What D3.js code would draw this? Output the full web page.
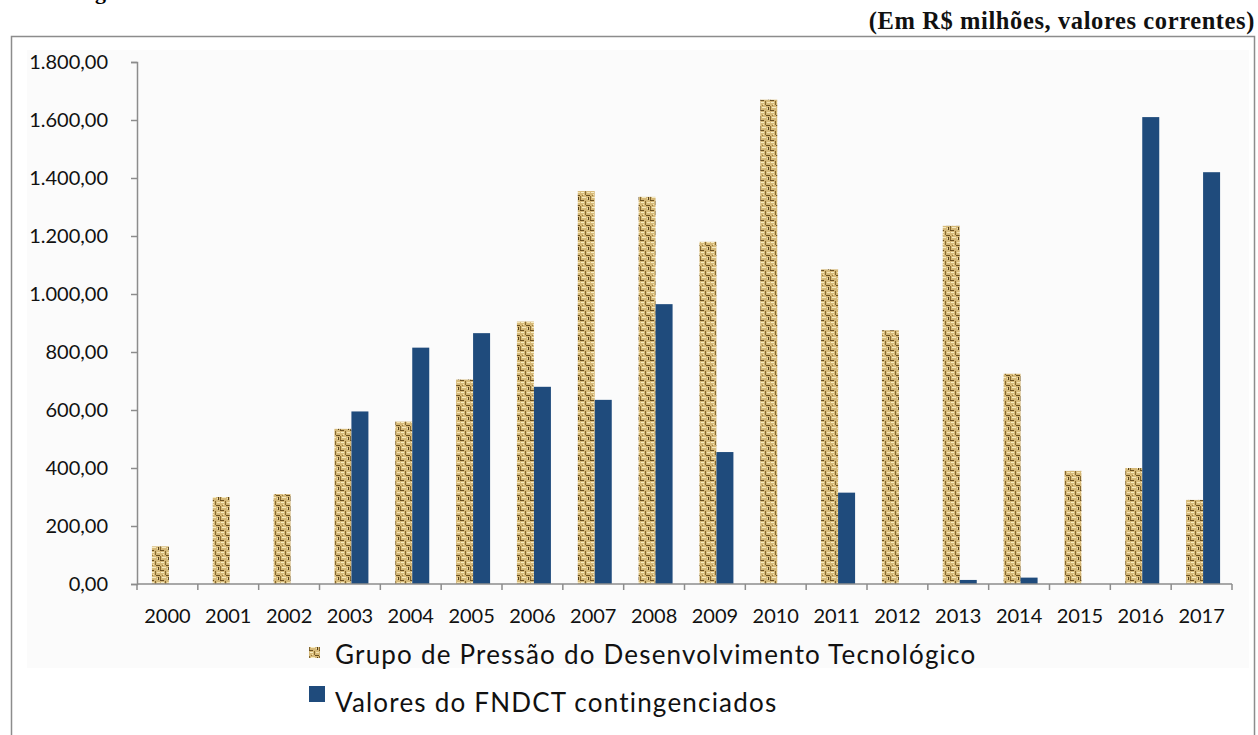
<!DOCTYPE html>
<html>
<head>
<meta charset="utf-8">
<script src="https://cdn.jsdelivr.net/npm/d3@7"></script>
<style>
  body { margin: 0; background: #fff; }
  svg { display: block; }
</style>
</head>
<body>
<div id="chart"></div>
<script>
const YEARS = ['2000','2001','2002','2003','2004','2005','2006','2007','2008',
  '2009','2010','2011','2012','2013','2014','2015','2016','2017'];
const GRUPO_VALUES = [130, 300, 310, 535, 560, 705, 905, 1355, 1335,
  1180, 1670, 1085, 875, 1235, 725, 390, 400, 290];
const FNDCT_VALUES = [0, 0, 0, 595, 815, 865, 680, 635, 965,
  455, 0, 315, 0, 14, 22, 0, 1610, 1420];
const Y_TICKS = [0, 200, 400, 600, 800, 1000, 1200, 1400, 1600, 1800];
const SERIES_LABELS = ['Grupo de Pressão do Desenvolvimento Tecnológico', 'Valores do FNDCT contingenciados'];
const UNIT_LABEL = '(Em R$ milhões, valores correntes)';

const BLUE = '#1f4b7c';
const W = 1258, H = 735;
const margin = { left: 137, right: 26, top: 62, bottom: 151 };

const svg = d3.select('#chart').append('svg')
  .attr('width', W).attr('height', H);

// woven tan texture like the Excel fill
const defs = svg.append('defs');
const pat = defs.append('pattern')
  .attr('id', 'tan')
  .attr('patternUnits', 'userSpaceOnUse')
  .attr('width', 10).attr('height', 10);
pat.append('rect').attr('width', 10).attr('height', 10).attr('fill', '#d6b978');
[[0,0,4,1,'#6a5022'],[5,1,1,4,'#86692f'],[1,2,3,1,'#f7ebc2'],[6,5,4,1,'#6a5022'],
 [0,6,1,4,'#86692f'],[2,7,4,1,'#f7ebc2'],[8,7,1,3,'#56401a'],[3,4,1,1,'#f3e2b0'],
 [7,2,3,1,'#f3e2b0'],[2,5,1,1,'#9c7c40'],[7,8,1,1,'#f3e2b0']].forEach(([x, y, w, h, c]) => {
  pat.append('rect').attr('x', x).attr('y', y).attr('width', w).attr('height', h).attr('fill', c);
});

// cut-off title descender at very top
svg.append('text')
  .attr('x', 95).attr('y', -1)
  .attr('font-family', 'Liberation Serif, serif')
  .attr('font-weight', 'bold')
  .attr('font-size', 22)
  .text('g');

svg.append('text')
  .attr('x', 1255).attr('y', 29)
  .attr('text-anchor', 'end')
  .attr('font-family', 'Liberation Serif, serif')
  .attr('font-weight', 'bold')
  .attr('font-size', 24.5)
  .attr('letter-spacing', 0.6)
  .attr('fill', '#111')
  .text(UNIT_LABEL);

// chart frame
svg.append('rect')
  .attr('x', 11.5).attr('y', 36.5)
  .attr('width', 1243).attr('height', 720)
  .attr('fill', '#fff')
  .attr('stroke', '#8c8c8c').attr('stroke-width', 1.5);

svg.append('rect')
  .attr('x', 27).attr('y', 50)
  .attr('width', 1222).attr('height', 618)
  .attr('fill', '#fbfbfb');

const x = d3.scaleBand()
  .domain(YEARS)
  .range([margin.left, W - margin.right]);

const y = d3.scaleLinear()
  .domain([0, 1800])
  .range([H - margin.bottom, margin.top]);

const fmt = v => d3.format(',.2f')(v).replace(/,/g, '#').replace('.', ',').replace(/#/g, '.');

const barW = 17;
const groupOff = (x.bandwidth() - barW * 2) / 2 + 1.5;

svg.append('g')
  .selectAll('rect')
  .data(YEARS.map((yr, i) => ({ yr, v: GRUPO_VALUES[i] })))
  .join('rect')
  .attr('x', d => x(d.yr) + groupOff)
  .attr('y', d => y(d.v))
  .attr('width', barW)
  .attr('height', d => y(0) - y(d.v))
  .attr('fill', 'url(#tan)');

svg.append('g')
  .selectAll('rect')
  .data(YEARS.map((yr, i) => ({ yr, v: FNDCT_VALUES[i] })))
  .join('rect')
  .attr('x', d => x(d.yr) + groupOff + barW)
  .attr('y', d => y(d.v))
  .attr('width', barW)
  .attr('height', d => y(0) - y(d.v))
  .attr('fill', BLUE);

// y axis
const yAxis = svg.append('g')
  .attr('transform', `translate(${margin.left},0)`)
  .call(d3.axisLeft(y).tickValues(Y_TICKS).tickFormat(fmt).tickSize(6).tickPadding(23));
yAxis.selectAll('line, path').attr('stroke', '#8c8c8c').attr('stroke-width', 1.5);
yAxis.selectAll('text')
  .attr('font-family', 'Lato, sans-serif')
  .attr('font-size', 20)
  .attr('fill', '#111');

// x axis: ticks at band boundaries
const xAxisG = svg.append('g')
  .attr('transform', `translate(0,${y(0)})`);
xAxisG.append('line')
  .attr('x1', margin.left).attr('x2', W - margin.right)
  .attr('stroke', '#8c8c8c').attr('stroke-width', 1.5);
xAxisG.selectAll('.xtick')
  .data(YEARS.concat(['end']))
  .join('line')
  .attr('class', 'xtick')
  .attr('x1', (d, i) => margin.left + i * x.step())
  .attr('x2', (d, i) => margin.left + i * x.step())
  .attr('y1', 0).attr('y2', 6)
  .attr('stroke', '#8c8c8c').attr('stroke-width', 1.5);
xAxisG.selectAll('.xlabel')
  .data(YEARS)
  .join('text')
  .attr('class', 'xlabel')
  .attr('x', d => x(d) + x.bandwidth() / 2)
  .attr('y', 39)
  .attr('text-anchor', 'middle')
  .attr('font-family', 'Lato, sans-serif')
  .attr('font-size', 20)
  .attr('fill', '#111')
  .text(d => d);

// legend
const legend = svg.append('g').attr('transform', 'translate(309,0)');
legend.append('rect')
  .attr('x', 0).attr('y', 647).attr('width', 11).attr('height', 11)
  .attr('fill', 'url(#tan)');
legend.append('text')
  .attr('x', 26).attr('y', 664)
  .attr('font-family', 'Lato, sans-serif')
  .attr('font-size', 26)
  .attr('letter-spacing', 1.2)
  .attr('fill', '#111')
  .text(SERIES_LABELS[0]);
legend.append('rect')
  .attr('x', 0).attr('y', 686).attr('width', 16).attr('height', 16)
  .attr('fill', BLUE);
legend.append('text')
  .attr('x', 26).attr('y', 712)
  .attr('font-family', 'Lato, sans-serif')
  .attr('font-size', 26)
  .attr('letter-spacing', 1.2)
  .attr('fill', '#111')
  .text(SERIES_LABELS[1]);
</script>
</body>
</html>
